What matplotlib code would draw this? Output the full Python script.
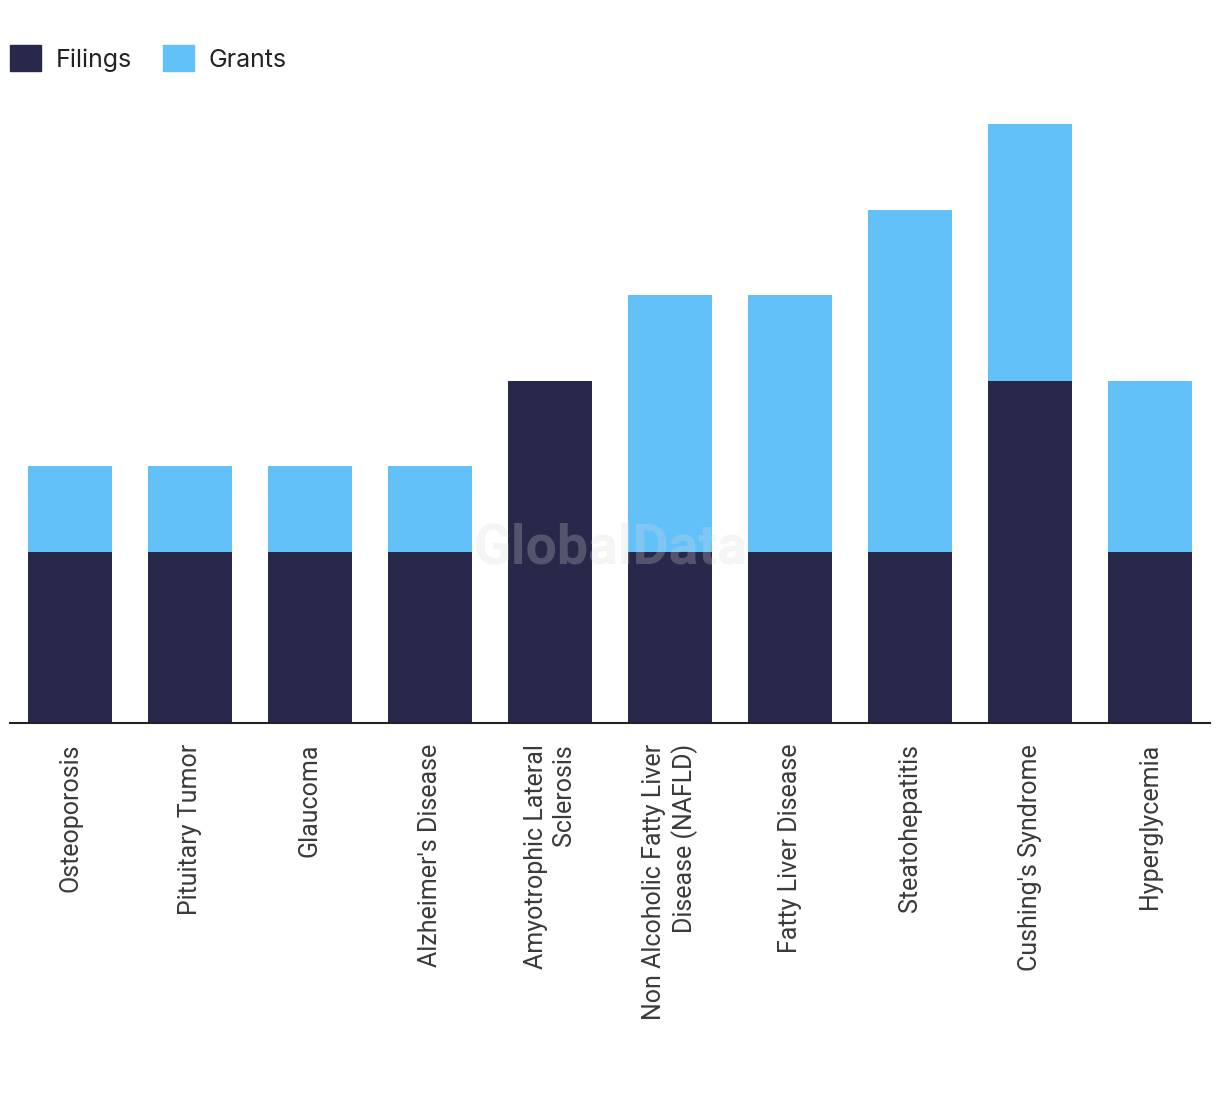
import matplotlib.pyplot as plt
from matplotlib.patches import Patch

#data
categories = ['Osteoporosis', 'Pituitary Tumor', 'Glaucoma', "Alzheimer's Disease",
              'Amyotrophic Lateral\nSclerosis', 'Non Alcoholic Fatty Liver\nDisease (NAFLD)',
              'Fatty Liver Disease', 'Steatohepatitis', "Cushing's Syndrome", 'Hyperglycemia']
filings = [2, 2, 2, 2, 4, 2, 2, 2, 4, 2]
grants = [1, 1, 1, 1, 0, 3, 3, 4, 3, 2]

navy = '#28284a'
blue = '#63c1f9'

fig = plt.figure(figsize=(12.2, 10.94), dpi=100)
ax = fig.add_axes([10/1220, 1 - 723/1094, 1200/1220, (723-124)/1094])

x = list(range(len(categories)))
ax.bar(x, filings, width=0.7, color=navy, zorder=2)
ax.bar(x, grants, width=0.7, bottom=filings, color=blue, zorder=2)

ax.set_xlim(-0.5, 9.5)
ax.set_ylim(0, 7)
ax.set_yticks([])
for s in ['top', 'right', 'left']:
    ax.spines[s].set_visible(False)
ax.spines['bottom'].set_color('#222222')
ax.spines['bottom'].set_linewidth(1.5)

ax.set_xticks(x)
ax.set_xticklabels(categories, rotation=90, fontsize=18, family='Roboto',
                   color='#3a3a3a', multialignment='right')
ax.tick_params(axis='x', length=0, pad=15)

# watermark
ax.text(4.5, 2.04, 'GlobalData', ha='center', va='center', fontsize=40,
        fontweight='bold', family='Roboto', color='#d8d8d8', alpha=0.25, zorder=3)

handles = [Patch(color=navy, label='Filings'), Patch(color=blue, label='Grants')]
fig.legend(handles=handles, loc='upper left', bbox_to_anchor=(10/1220, 1 - 45/1094), ncol=2,
           frameon=False, prop={'family': 'Inter', 'size': 18},
           borderpad=0, borderaxespad=0,
           handlelength=1.25, handleheight=1.25, handletextpad=0.6, columnspacing=1.2,
           labelcolor='#222222')

fig.savefig('out.png', dpi=100)
